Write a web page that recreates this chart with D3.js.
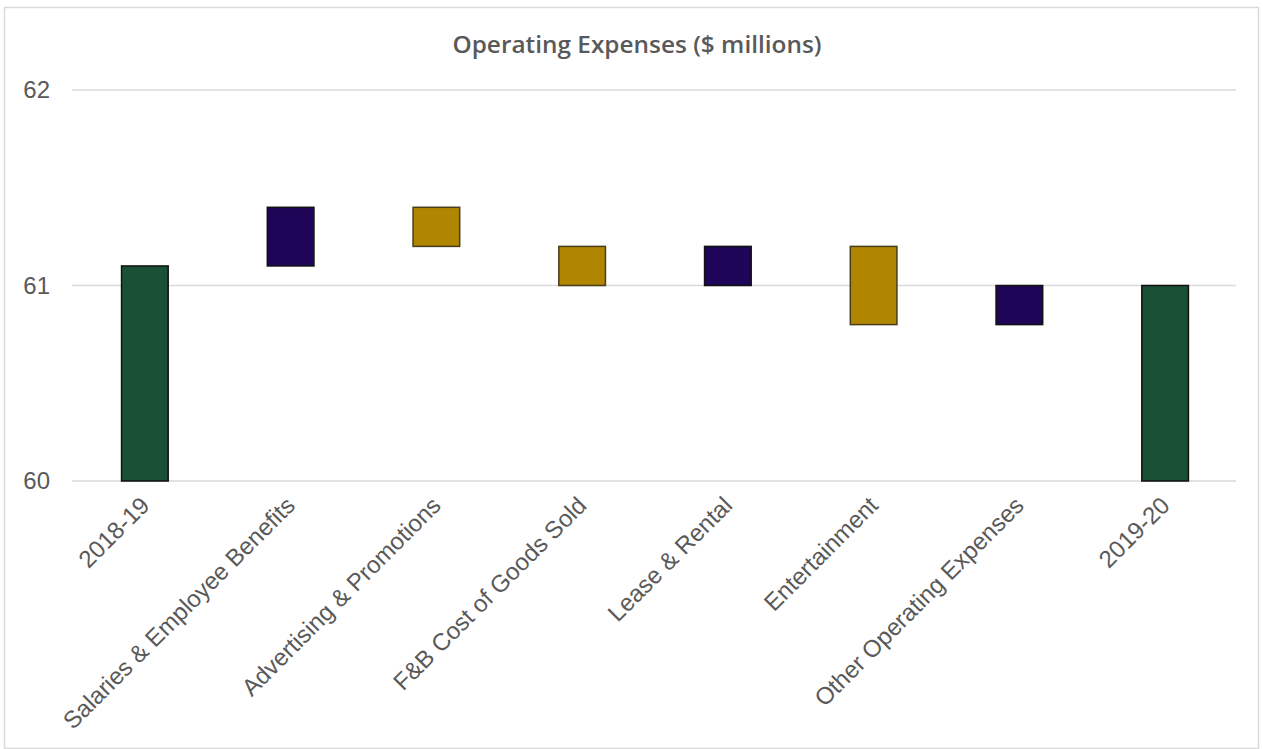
<!DOCTYPE html>
<html>
<head>
<meta charset="utf-8">
<script src="https://cdn.jsdelivr.net/npm/d3@7"></script>
<style>
  html, body { margin: 0; padding: 0; background: #fff; }
  svg { display: block; }
</style>
</head>
<body>
<svg id="chart" width="1263" height="749"></svg>
<script>
// Waterfall: opening total, changes by expense line, closing total ($ millions)
const categories = [
  "2018-19",
  "Salaries & Employee Benefits",
  "Advertising & Promotions",
  "F&B Cost of Goods Sold",
  "Lease & Rental",
  "Entertainment",
  "Other Operating Expenses",
  "2019-20"
];
// start and end level of each bar
const barStart = [60.0, 61.1, 61.4, 61.2, 61.0, 61.2, 60.8, 60.0];
const barEnd   = [61.1, 61.4, 61.2, 61.0, 61.2, 60.8, 61.0, 61.0];
// kind: total / increase / decrease
const barKind  = ["total", "increase", "decrease", "decrease", "increase", "decrease", "increase", "total"];
const yTicks = [60, 61, 62];

const fills   = { total: "#1a5035", increase: "#1e0557", decrease: "#b08500" };
const strokes = { total: "#111", increase: "#111", decrease: "#4a3d1a" };

const svg = d3.select("#chart");
const W = 1263, H = 749;
const margin = { left: 72, right: 25, top: 90, bottom: 268 };

// outer frame
svg.append("rect")
  .attr("x", 4.5).attr("y", 7.5)
  .attr("width", W - 9).attr("height", H - 8)
  .attr("fill", "#fff").attr("stroke", "#d9d9d9").attr("stroke-width", 1.5);

const x = d3.scaleBand()
  .domain(categories)
  .range([margin.left, W - margin.right])
  .paddingInner(0.68).paddingOuter(0.34);

const y = d3.scaleLinear()
  .domain([60, 62])
  .range([H - margin.bottom, margin.top]);

// gridlines
svg.append("g")
  .selectAll("line")
  .data(yTicks)
  .join("line")
  .attr("x1", margin.left).attr("x2", W - margin.right - 2)
  .attr("y1", d => y(d)).attr("y2", d => y(d))
  .attr("stroke", "#d9d9d9").attr("stroke-width", 1.5);

// y axis labels
const yAxis = d3.axisLeft(y).tickValues(yTicks).tickSize(0).tickPadding(22).tickFormat(d3.format("d"));
const gy = svg.append("g").attr("transform", `translate(${margin.left},0)`).call(yAxis);
gy.select(".domain").remove();
gy.selectAll("text")
  .attr("font-family", "'Liberation Sans', Arial, sans-serif")
  .attr("font-size", 24).attr("fill", "#595959");

// bars
svg.append("g")
  .selectAll("rect")
  .data(categories)
  .join("rect")
  .attr("x", d => x(d))
  .attr("width", x.bandwidth())
  .attr("y", (d, i) => y(Math.max(barStart[i], barEnd[i])))
  .attr("height", (d, i) => Math.abs(y(barStart[i]) - y(barEnd[i])))
  .attr("fill", (d, i) => fills[barKind[i]])
  .attr("stroke", (d, i) => strokes[barKind[i]])
  .attr("stroke-width", 1.5);

// x axis labels, rotated
const xAxis = d3.axisBottom(x).tickSize(0).tickPadding(0);
const gx = svg.append("g").attr("transform", `translate(0,${y(60)})`).call(xAxis);
gx.select(".domain").remove();
gx.selectAll("text")
  .attr("font-family", "'Liberation Sans', Arial, sans-serif")
  .attr("font-size", 24).attr("fill", "#595959")
  .attr("text-anchor", "end")
  .attr("dy", "0.35em")
  .attr("transform", "translate(0,20) rotate(-45)");

// title
svg.append("text")
  .attr("x", 637).attr("y", 53)
  .attr("text-anchor", "middle")
  .attr("font-family", "'Open Sans', Lato, sans-serif")
  .attr("font-size", 23).attr("font-weight", 600)
  .attr("textLength", 369).attr("lengthAdjust", "spacingAndGlyphs")
  .attr("fill", "#595959")
  .text("Operating Expenses ($ millions)");
</script>
</body>
</html>
